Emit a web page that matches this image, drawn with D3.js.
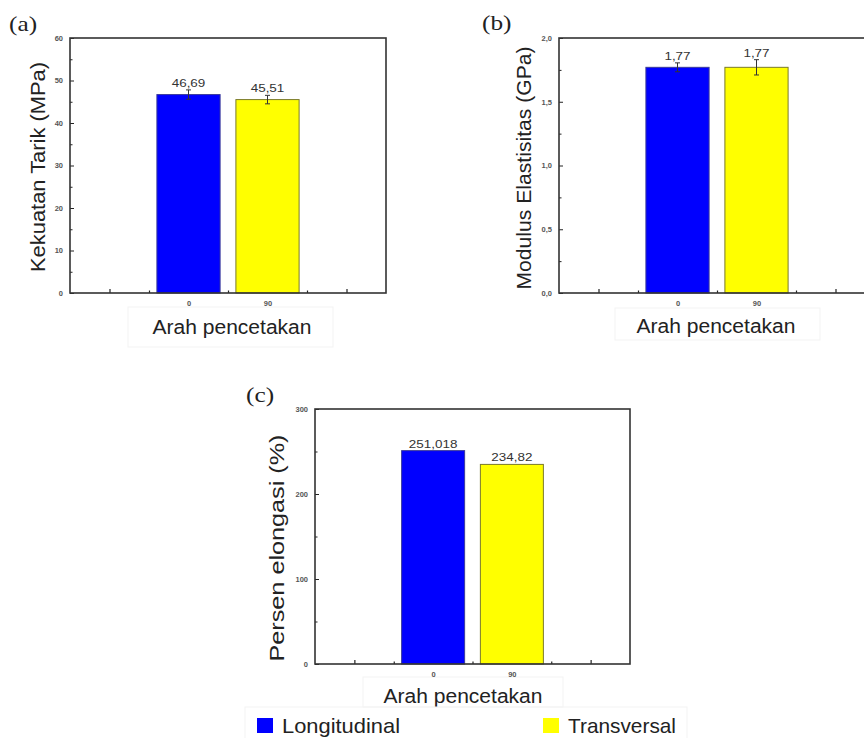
<!DOCTYPE html>
<html>
<head>
<meta charset="utf-8">
<script src="https://cdn.jsdelivr.net/npm/d3@7/dist/d3.min.js"></script>
<style>
  html, body { margin: 0; padding: 0; background: #fff; }
  svg { display: block; }
</style>
</head>
<body>
<svg id="chart" width="864" height="738"></svg>
<script>
// ---------- data ----------
const categories = ["0", "90"];
const seriesNames = ["Longitudinal", "Transversal"];
const seriesColors = ["#0000ff", "#ffff00"];

const tensileValues = [46.69, 45.51];
const tensileErrors = [1.1, 1.0];
const tensileLabels = ["46,69", "45,51"];
const tensileTicks = [0, 10, 20, 30, 40, 50, 60];
const tensileTickLabels = ["0", "10", "20", "30", "40", "50", "60"];

const modulusValues = [1.77, 1.77];
const modulusErrors = [0.035, 0.06];
const modulusLabels = ["1,77", "1,77"];
const modulusTicks = [0, 0.5, 1.0, 1.5, 2.0];
const modulusTickLabels = ["0,0", "0,5", "1,0", "1,5", "2,0"];

const elongationValues = [251.018, 234.82];
const elongationErrors = [0, 0];
const elongationLabels = ["251,018", "234,82"];
const elongationTicks = [0, 100, 200, 300];
const elongationTickLabels = ["0", "100", "200", "300"];

const xLabel = "Arah pencetakan";

// ---------- layout ----------
const panels = [
  { tag: "(a)", tagX: 9, tagY: 31, left: 70, right: 386, top: 38, bottom: 293,
    values: tensileValues, errors: tensileErrors, labels: tensileLabels,
    ticks: tensileTicks, tickLabels: tensileTickLabels,
    yLabel: "Kekuatan Tarik (MPa)", yLabelX: 45, yLabelLen: 210, yLabelCY: 167,
    xLabelY: 334, xLabelCX: 232, box: [128, 307, 205, 40] },
  { tag: "(b)", tagX: 482, tagY: 30, left: 559, right: 875, top: 38, bottom: 293,
    values: modulusValues, errors: modulusErrors, labels: modulusLabels,
    ticks: modulusTicks, tickLabels: modulusTickLabels,
    yLabel: "Modulus Elastisitas (GPa)", yLabelX: 531, yLabelLen: 243, yLabelCY: 168,
    xLabelY: 333, xLabelCX: 716, box: [615, 308, 205, 32] },
  { tag: "(c)", tagX: 246, tagY: 402, left: 315, right: 630, top: 409, bottom: 664,
    values: elongationValues, errors: elongationErrors, labels: elongationLabels,
    ticks: elongationTicks, tickLabels: elongationTickLabels,
    yLabel: "Persen elongasi (%)", yLabelX: 284, yLabelLen: 227, yLabelCY: 548,
    xLabelY: 703, xLabelCX: 463, box: [363, 677, 200, 30] }
];

const svg = d3.select("#chart");
const sans = "Liberation Sans, Arial, sans-serif";
const serif = "Liberation Serif, Times New Roman, serif";

panels.forEach(p => {
  const g = svg.append("g");
  const x = d3.scaleLinear().domain([0.5, 4.5]).range([p.left, p.right]);
  const yMax = p.ticks[p.ticks.length - 1];
  const y = d3.scaleLinear().domain([0, yMax]).range([p.bottom, p.top]);
  const step = p.ticks[1] - p.ticks[0];
  const minorY = p.ticks.slice(0, -1).map(t => t + step / 2);

  // faint pasted-box artifact
  g.append("rect").attr("x", p.box[0]).attr("y", p.box[1])
    .attr("width", p.box[2]).attr("height", p.box[3])
    .attr("fill", "none").attr("stroke", "#f3f3f3").attr("stroke-width", 1);

  // y axis (inward ticks)
  const yAxis = d3.axisLeft(y).tickValues(p.ticks)
    .tickFormat((d, i) => p.tickLabels[i]).tickSizeInner(-4).tickSizeOuter(0).tickPadding(7);
  const ya = g.append("g").attr("transform", `translate(${p.left},0)`).call(yAxis);
  ya.select(".domain").remove();
  ya.selectAll("line").attr("stroke", "#222").attr("stroke-width", 1);
  ya.selectAll("text").attr("font-family", sans).attr("font-size", 7.5)
    .attr("font-weight", "bold").attr("fill", "#555");
  const yMinor = d3.axisLeft(y).tickValues(minorY).tickFormat("").tickSizeInner(-2.5).tickSizeOuter(0);
  const ym = g.append("g").attr("transform", `translate(${p.left},0)`).call(yMinor);
  ym.select(".domain").remove();
  ym.selectAll("line").attr("stroke", "#222").attr("stroke-width", 1);

  // x axis (inward ticks)
  const catPos = categories.map((c, i) => i + 2);
  const xAxis = d3.axisBottom(x).tickValues([1, 2, 3, 4])
    .tickFormat(d => { const k = catPos.indexOf(d); return k >= 0 ? categories[k] : ""; })
    .tickSizeInner(-4).tickSizeOuter(0).tickPadding(8);
  const xa = g.append("g").attr("transform", `translate(0,${p.bottom})`).call(xAxis);
  xa.select(".domain").remove();
  xa.selectAll("line").attr("stroke", "#222").attr("stroke-width", 1.2);
  xa.selectAll("text").attr("font-family", sans).attr("font-size", 7.5)
    .attr("font-weight", "bold").attr("fill", "#555");
  const xMinor = d3.axisBottom(x).tickValues([1.5, 2.5, 3.5]).tickFormat("").tickSizeInner(-2.5).tickSizeOuter(0);
  const xm = g.append("g").attr("transform", `translate(0,${p.bottom})`).call(xMinor);
  xm.select(".domain").remove();
  xm.selectAll("line").attr("stroke", "#222").attr("stroke-width", 1.2);

  // bars
  const bw = (x(1) - x(0)) * 0.8;
  g.selectAll("rect.bar").data(p.values).join("rect").attr("class", "bar")
    .attr("x", (d, i) => x(catPos[i]) - bw / 2)
    .attr("y", d => y(d))
    .attr("width", bw)
    .attr("height", d => y(0) - y(d))
    .attr("fill", (d, i) => seriesColors[i])
    .attr("stroke", (d, i) => i === 0 ? "#3a3a9a" : "#7a7a2a")
    .attr("stroke-width", 1);

  // error bars
  p.values.forEach((v, i) => {
    const e = p.errors[i];
    if (e > 0) {
      const cx = x(catPos[i]);
      const eg = g.append("g").attr("stroke", "#333").attr("stroke-width", 1);
      eg.append("line").attr("x1", cx).attr("x2", cx).attr("y1", y(v + e)).attr("y2", y(v - e));
      eg.append("line").attr("x1", cx - 2.5).attr("x2", cx + 2.5).attr("y1", y(v + e)).attr("y2", y(v + e));
      eg.append("line").attr("x1", cx - 2.5).attr("x2", cx + 2.5).attr("y1", y(v - e)).attr("y2", y(v - e));
    }
    // value label
    g.append("g").attr("transform", `translate(${x(catPos[i])},${y(v + e) - 3}) scale(1.17,1)`)
      .append("text").attr("text-anchor", "middle")
      .attr("font-family", sans).attr("font-size", 11.5).attr("fill", "#333")
      .text(p.labels[i]);
  });

  // frame
  g.append("rect").attr("x", p.left).attr("y", p.top)
    .attr("width", p.right - p.left).attr("height", p.bottom - p.top)
    .attr("fill", "none").attr("stroke", "#333").attr("stroke-width", 1.6);

  // panel tag
  g.append("g").attr("transform", `translate(${p.tagX},${p.tagY}) scale(1.15,1)`)
    .append("text").attr("font-family", serif).attr("font-size", 22).attr("fill", "#222")
    .text(p.tag);

  // y label
  g.append("text")
    .attr("transform", `translate(${p.yLabelX},${p.yLabelCY}) rotate(-90)`)
    .attr("text-anchor", "middle").attr("font-family", sans).attr("font-size", 20)
    .attr("fill", "#222").attr("textLength", p.yLabelLen).attr("lengthAdjust", "spacingAndGlyphs")
    .text(p.yLabel);

  // x label
  g.append("text").attr("x", p.xLabelCX).attr("y", p.xLabelY)
    .attr("text-anchor", "middle").attr("font-family", sans).attr("font-size", 20)
    .attr("fill", "#222").attr("textLength", 159).attr("lengthAdjust", "spacingAndGlyphs")
    .text(xLabel);
});

// ---------- legend ----------
const legend = svg.append("g");
legend.append("rect").attr("x", 245).attr("y", 707).attr("width", 442).attr("height", 40)
  .attr("fill", "none").attr("stroke", "#f3f3f3");
const legendItems = [
  { sx: 257, tx: 282, len: 118 },
  { sx: 543, tx: 568, len: 108 }
];
seriesNames.forEach((name, i) => {
  const it = legendItems[i];
  legend.append("rect").attr("x", it.sx).attr("y", 718).attr("width", 16).attr("height", 15)
    .attr("fill", seriesColors[i]);
  legend.append("text").attr("x", it.tx).attr("y", 733)
    .attr("font-family", sans).attr("font-size", 21).attr("fill", "#222")
    .attr("textLength", it.len).attr("lengthAdjust", "spacingAndGlyphs")
    .text(name);
});
</script>
</body>
</html>
